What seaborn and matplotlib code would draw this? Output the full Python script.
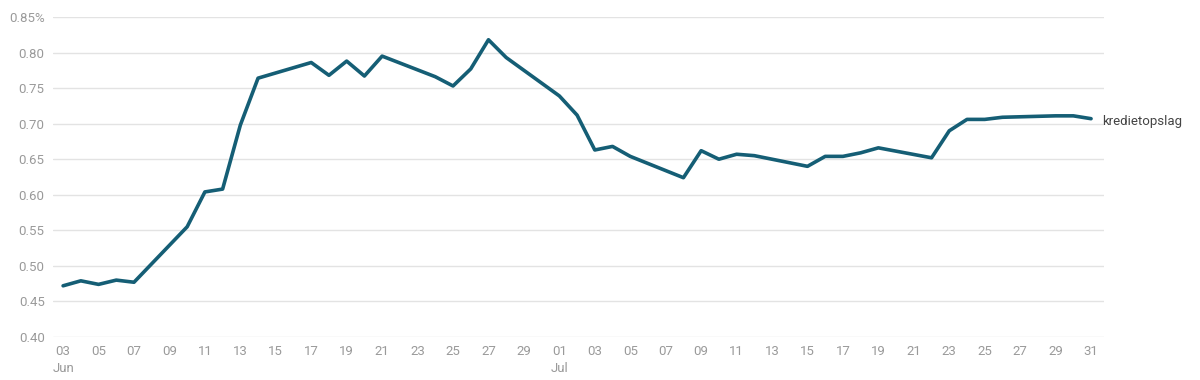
import matplotlib
matplotlib.use("Agg")
import matplotlib.pyplot as plt
import seaborn as sns
import pandas as pd

dates = ["2024-06-03", "2024-06-04", "2024-06-05", "2024-06-06", "2024-06-07",
         "2024-06-10", "2024-06-11", "2024-06-12", "2024-06-13", "2024-06-14",
         "2024-06-17", "2024-06-18", "2024-06-19", "2024-06-20", "2024-06-21",
         "2024-06-24", "2024-06-25", "2024-06-26", "2024-06-27", "2024-06-28",
         "2024-07-01", "2024-07-02", "2024-07-03", "2024-07-04", "2024-07-05",
         "2024-07-08", "2024-07-09", "2024-07-10", "2024-07-11", "2024-07-12",
         "2024-07-15", "2024-07-16", "2024-07-17", "2024-07-18", "2024-07-19",
         "2024-07-22", "2024-07-23", "2024-07-24", "2024-07-25", "2024-07-26",
         "2024-07-29", "2024-07-30", "2024-07-31"]
values = [0.472, 0.479, 0.474, 0.480, 0.477,
          0.555, 0.604, 0.608, 0.698, 0.764,
          0.786, 0.768, 0.788, 0.767, 0.795,
          0.766, 0.753, 0.777, 0.818, 0.793,
          0.739, 0.712, 0.663, 0.668, 0.654,
          0.624, 0.662, 0.650, 0.657, 0.655,
          0.640, 0.654, 0.654, 0.659, 0.666,
          0.652, 0.690, 0.706, 0.706, 0.709,
          0.711, 0.711, 0.707]
series_name = "kredietopslag"
y_ticks = [0.40, 0.45, 0.50, 0.55, 0.60, 0.65, 0.70, 0.75, 0.80, 0.85]

df = pd.DataFrame({"date": pd.to_datetime(dates), "value": values})

sns.set_theme(style="white")
plt.rcParams["font.family"] = ["Roboto", "DejaVu Sans"]

fig = plt.figure(figsize=(12, 3.8), dpi=100)
ax = fig.add_axes([53/1200, 1 - 337/380, (1104 - 53)/1200, 320/380])

line_color = "#155e75"
sns.lineplot(data=df, x="date", y="value", ax=ax, color=line_color, linewidth=2.6)

start = df["date"].iloc[0]
end = df["date"].iloc[-1]
ax.set_xlim(start - pd.Timedelta(days=0.57), end + pd.Timedelta(days=0.73))
ax.set_ylim(0.40, 0.85)

ax.set_yticks(y_ticks)
ylabels = [f"{t:.2f}" for t in y_ticks]
ylabels[-1] = ylabels[-1] + "%"
ax.set_yticklabels(ylabels)

xt = pd.date_range(start, end, freq="2D")
ax.set_xticks(xt)
xlabels = []
for d in xt:
    lab = d.strftime("%d")
    if d == start or d.day == 1:
        lab = lab + "\n" + d.strftime("%b")
    xlabels.append(lab)
ax.set_xticklabels(xlabels, linespacing=1.35)

ax.grid(axis="y", color="#e3e3e3", linewidth=1.0)
ax.grid(axis="x", visible=False)
for s in ax.spines.values():
    s.set_visible(False)
ax.tick_params(axis="both", length=0, labelsize=9.5, colors="#9a9a9a")
ax.tick_params(axis="y", pad=6)
ax.tick_params(axis="x", pad=6)
ax.set_xlabel("")
ax.set_ylabel("")

ax.annotate(series_name, xy=(df["date"].iloc[-1], values[-1]), xytext=(8, -2),
            textcoords="offset points", va="center", ha="left",
            fontsize=9.5, color="#444444", annotation_clip=False)

fig.savefig("out.png", dpi=100)
